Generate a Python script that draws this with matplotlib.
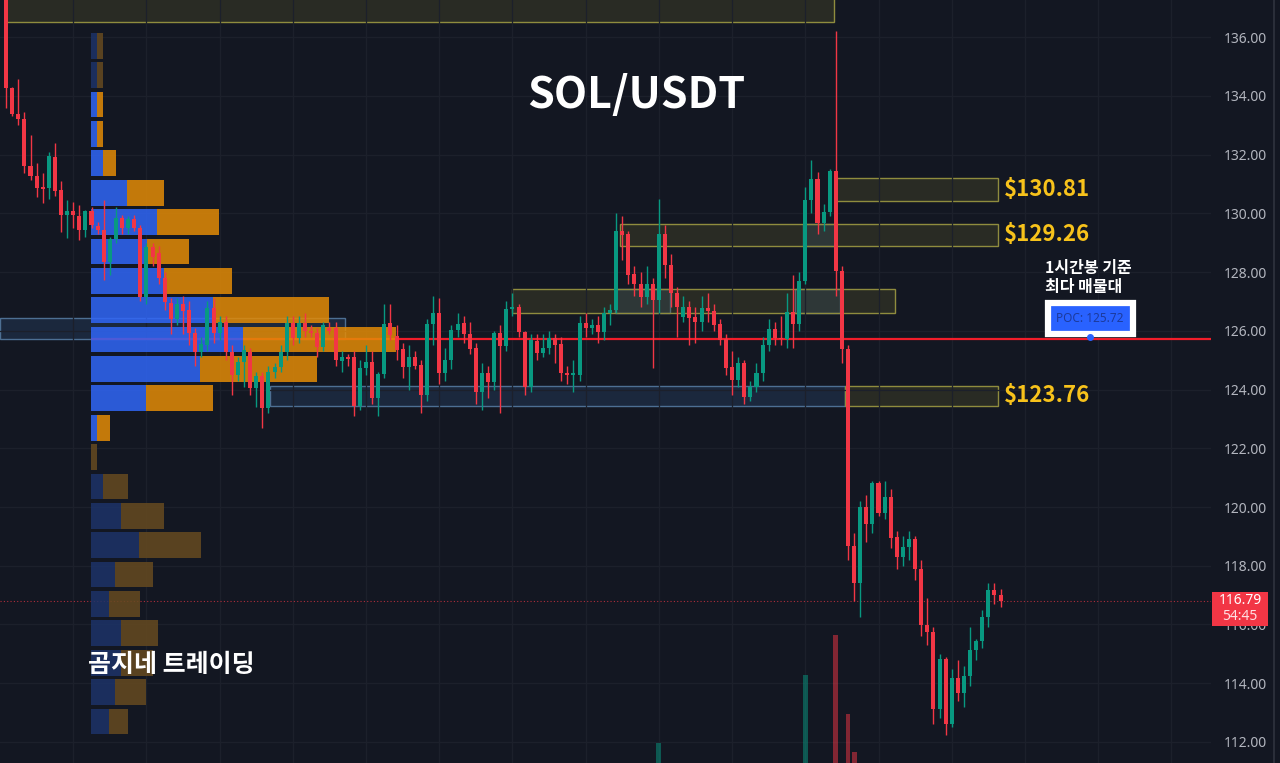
import numpy as np
import matplotlib
matplotlib.use("Agg")
import matplotlib.pyplot as plt
from matplotlib.patches import Rectangle
from matplotlib.lines import Line2D

# ---- candle data (1h SOL/USDT) ----
opens = [137.3, 134.26, 133.38, 133.2, 131.6, 131.27, 130.88, 130.86, 131.9, 130.8,
         129.94, 130.08, 129.9, 129.43, 130.08, 129.57, 129.43, 128.34, 129.12, 129.84,
         129.5, 129.8, 129.5, 127.15, 128.85, 128.64, 127.8, 126.94, 126.4, 126.9,
         126.7, 125.92, 125.28, 125.5, 126.77, 125.92, 126.3, 125.28, 124.5, 124.94,
         125.28, 124.05, 124.46, 123.37, 124.6, 124.75, 125.28, 126.27, 125.75, 126.27,
         126.0, 125.92, 125.45, 126.1, 126.1, 124.97, 125.1, 125.1, 123.44, 124.73,
         124.94, 123.7, 124.53, 126.27, 125.82, 125.38, 124.77, 125.1, 124.83, 123.81,
         126.23, 126.6, 124.56, 125.0, 126.03, 126.27, 125.9, 125.41, 123.91, 124.56,
         124.26, 125.92, 125.48, 126.74, 126.8, 125.96, 124.08, 125.65, 125.24, 125.41,
         125.75, 125.55, 124.56, 124.5, 124.5, 126.27, 126.1, 126.2, 125.96, 126.6,
         126.7, 129.4, 129.3, 127.93, 127.6, 127.15, 127.6, 127.05, 129.3, 128.24,
         127.3, 126.47, 126.8, 126.47, 126.3, 126.77, 126.67, 126.23, 125.72, 124.77,
         124.32, 124.9, 123.74, 124.09, 124.56, 125.5, 126.06, 125.75, 125.72, 126.64,
         126.23, 127.7, 130.45, 131.17, 129.67, 130.04, 131.44, 128.03, 125.38, 118.67,
         117.41, 120.0, 119.42, 120.82, 119.8, 120.34, 118.98, 118.3, 118.64, 118.9,
         117.9, 115.98, 115.74, 113.12, 114.83, 112.6, 114.18, 113.67, 114.25, 115.14,
         115.44, 116.26, 117.17, 117.0]
highs = [137.4, 134.3, 134.57, 133.45, 132.66, 131.7, 131.37, 132.1, 132.4, 131.1,
         130.45, 130.4, 130.28, 130.1, 130.2, 129.7, 130.45, 129.2, 130.2, 129.95,
         129.9, 129.95, 129.6, 129.0, 129.0, 128.9, 128.0, 127.1, 127.1, 127.2,
         127.0, 126.1, 125.8, 127.0, 127.1, 126.5, 126.5, 125.5, 125.1, 125.5,
         125.4, 124.6, 124.6, 124.8, 124.9, 125.5, 126.5, 126.5, 126.5, 126.6,
         126.2, 126.1, 126.3, 126.3, 126.3, 125.3, 125.2, 125.3, 125.0, 125.5,
         125.3, 124.6, 126.9, 126.9, 126.2, 125.6, 125.5, 125.3, 125.0, 126.4,
         127.2, 127.1, 125.4, 126.2, 126.6, 126.5, 126.3, 125.6, 124.9, 124.8,
         126.0, 126.2, 127.0, 127.3, 126.9, 126.0, 125.9, 125.9, 125.9, 126.0,
         125.9, 125.8, 124.8, 125.0, 126.5, 126.6, 126.4, 126.5, 126.8, 126.9,
         130.0, 129.9, 129.4, 128.2, 128.0, 128.2, 127.8, 130.5, 129.6, 128.6,
         127.5, 127.2, 127.0, 126.8, 127.2, 127.3, 126.9, 126.4, 125.9, 125.3,
         125.1, 125.0, 124.3, 124.9, 125.8, 126.4, 126.3, 126.5, 127.3, 127.9,
         128.0, 130.9, 131.8, 131.4, 130.3, 131.5, 136.2, 128.2, 125.5, 119.1,
         120.2, 120.4, 120.9, 120.9, 120.9, 120.6, 119.2, 119.0, 119.2, 119.0,
         118.2, 116.9, 115.9, 115.0, 114.9, 114.5, 114.8, 114.6, 115.9, 115.5,
         116.5, 117.4, 117.4, 117.2]
lows = [133.6, 133.3, 133.0, 131.37, 131.13, 130.55, 130.35, 130.5, 130.6, 129.36,
        129.16, 129.5, 129.09, 129.2, 129.5, 129.3, 127.73, 127.9, 129.0, 129.3,
        129.3, 129.4, 127.0, 126.9, 128.2, 127.6, 126.7, 125.9, 126.2, 125.9,
        125.5, 124.8, 125.1, 125.3, 125.6, 125.7, 125.0, 123.8, 124.3, 124.1,
        123.8, 123.4, 122.7, 123.2, 124.4, 124.6, 125.0, 125.5, 125.6, 125.8,
        125.8, 125.1, 125.3, 125.9, 124.8, 124.6, 124.8, 123.1, 123.3, 124.5,
        123.5, 123.1, 124.4, 125.7, 125.0, 124.4, 124.0, 124.7, 123.2, 123.6,
        125.5, 124.2, 124.3, 124.7, 125.8, 125.6, 125.2, 123.5, 123.3, 123.7,
        124.0, 123.2, 125.3, 126.5, 125.8, 123.8, 123.9, 125.0, 125.1, 125.2,
        124.9, 124.3, 124.2, 123.9, 124.3, 125.8, 125.9, 125.6, 125.7, 126.2,
        126.6, 128.4, 127.6, 127.2, 126.8, 126.9, 124.73, 126.6, 127.8, 126.8,
        125.8, 126.3, 125.5, 125.6, 126.0, 126.3, 126.0, 125.5, 124.5, 123.8,
        124.1, 123.5, 123.6, 123.9, 124.3, 125.3, 125.5, 125.5, 125.4, 125.4,
        126.0, 127.6, 130.0, 129.3, 129.4, 129.9, 127.2, 124.9, 118.2, 116.8,
        116.26, 118.8, 119.1, 119.7, 119.6, 118.6, 117.9, 118.0, 118.2, 117.5,
        115.6, 115.3, 112.6, 112.8, 112.24, 112.5, 113.4, 113.2, 113.9, 114.8,
        115.2, 115.9, 116.7, 116.6]
closes = [134.26, 133.38, 133.2, 131.6, 131.27, 130.86, 130.84, 131.95, 130.76, 129.94,
          130.08, 129.94, 129.43, 130.08, 129.6, 129.43, 128.34, 129.12, 129.84, 129.5,
          129.8, 129.5, 127.15, 128.85, 128.5, 127.8, 126.98, 126.4, 126.9, 126.67,
          125.92, 125.28, 125.55, 126.77, 125.92, 126.3, 125.28, 124.5, 124.94, 125.35,
          124.05, 124.46, 123.37, 124.6, 124.75, 125.28, 126.27, 125.75, 126.27, 126.0,
          125.92, 125.45, 126.2, 126.0, 125.0, 125.1, 125.05, 123.44, 124.73, 124.94,
          123.7, 124.53, 126.23, 125.86, 125.34, 124.77, 125.1, 124.8, 123.81, 126.23,
          126.6, 124.56, 125.0, 126.03, 126.23, 125.9, 125.38, 123.91, 124.56, 124.26,
          125.92, 125.48, 126.74, 126.8, 125.96, 124.08, 125.7, 125.24, 125.41, 125.75,
          125.5, 124.56, 124.5, 124.55, 126.27, 126.1, 126.2, 125.96, 126.6, 126.7,
          129.4, 129.26, 127.9, 127.6, 127.15, 127.6, 127.05, 129.3, 128.24, 127.28,
          126.8, 126.8, 126.43, 126.3, 126.77, 126.67, 126.2, 125.7, 124.73, 124.32,
          124.9, 123.74, 124.09, 124.56, 125.5, 126.06, 125.75, 125.72, 126.64, 126.23,
          127.7, 130.45, 131.17, 129.67, 130.04, 131.44, 128.03, 125.38, 118.67, 117.41,
          120.0, 119.42, 120.82, 119.8, 120.34, 118.94, 118.3, 118.64, 118.9, 117.9,
          115.98, 115.74, 113.12, 114.83, 112.6, 114.18, 113.67, 114.25, 115.14, 115.44,
          116.26, 117.17, 117.0, 116.79]

# visible volume bars (bottom of the pane)
vol_idx = [107, 131, 136, 138, 139]
vol_val = [20, 88, 128, 49, 11]

# volume profile (buy / sell) per 1$ bin
bin_mid = [135.7, 134.7, 133.7, 132.7, 131.7, 130.7, 129.7, 128.7, 127.7, 126.7, 125.7, 124.7,
           123.7, 122.7, 121.7, 120.7, 119.7, 118.7, 117.7, 116.7, 115.7, 114.7, 113.7, 112.7]
buy_vol = [6, 6, 6, 6, 12, 36, 66, 56, 73, 122, 152, 109, 55, 6, 0, 12, 30, 48, 24, 18, 30, 30, 24, 18]
sell_vol = [6, 6, 6, 6, 13, 37, 62, 42, 68, 116, 153, 117, 67, 13, 6, 25, 43, 62, 38, 31, 37, 32, 31, 19]
va_low, va_high = 122.2, 134.2
poc = 125.72
last_price = 116.79
countdown = "54:45"

# supply / demand zones: (start idx, end idx, low, high)
yellow_zones = [(-0.2, 135.7, 136.51, 137.5),
                (135.9, 162.6, 130.42, 131.2),
                (100.7, 162.6, 128.89, 129.63),
                (82.9, 145.7, 126.6, 127.42),
                (137.5, 162.6, 123.44, 124.12)]
blue_zones = [(-1.0, 55.6, 125.72, 126.43),
              (43.3, 137.5, 123.44, 124.12),
              (130.7, 135.9, 128.89, 129.63),
              (99.8, 108.9, 126.6, 127.42),
              (129.3, 136.7, 126.6, 127.42)]
zone_labels = [(1, "$130.81"), (2, "$129.26"), (4, "$123.76")]

bg = "#131722"
up_c = "#089981"
dn_c = "#f23645"
kr = ["Noto Sans CJK KR", "DejaVu Sans"]

W, H = 1280, 763
fig = plt.figure(figsize=(W / 100, H / 100), dpi=100, facecolor=bg)
ax = fig.add_axes([0, 0, 1211 / W, 1])
ax.set_facecolor(bg)
ax.set_xlim(-1.0, 197.5)
ax.set_ylim(111.285, 137.26)
px = 6.1  # pixels per candle

# grid
ax.set_xticks(np.arange(11, 197, 12))
ax.set_yticks(np.arange(112, 137, 2))
ax.set_yticklabels([f"{v:.2f}" for v in np.arange(112, 137, 2)])
ax.grid(True, color="#1c202b", lw=0.9, zorder=0)
ax.yaxis.tick_right()
ax.tick_params(axis="x", length=0, labelbottom=False)
ax.tick_params(axis="y", length=0, pad=9, labelsize=10, labelcolor="#b2b5be")
for lab in ax.get_yticklabels():
    lab.set_fontfamily("Noto Sans")
for s in ax.spines.values():
    s.set_visible(False)

# zones
for (x0, x1, lo, hi) in blue_zones:
    ax.add_patch(Rectangle((x0, lo), x1 - x0, hi - lo, facecolor="#2a4a70", alpha=0.35,
                           edgecolor="none", zorder=1))
    ax.add_patch(Rectangle((x0, lo), x1 - x0, hi - lo, facecolor="none",
                           edgecolor="#4d6f93", lw=1, zorder=1.1))
for (x0, x1, lo, hi) in yellow_zones:
    ax.add_patch(Rectangle((x0, lo), x1 - x0, hi - lo, facecolor="#5c5a2a", alpha=0.3,
                           edgecolor="none", zorder=1.2))
    ax.add_patch(Rectangle((x0, lo), x1 - x0, hi - lo, facecolor="none",
                           edgecolor="#8f8c3e", lw=1, zorder=1.3))

# POC line and last price line
prof_x0 = (91 - 6) / px
ax.hlines(poc, prof_x0, 197.5, color="#f21d2a", lw=1.6, zorder=2)
ax.axhline(last_price, color=dn_c, lw=0.8, ls=(0, (1, 2)), alpha=0.7, zorder=2)

# volume profile
buy_vol = np.array(buy_vol)
sell_vol = np.array(sell_vol)
bin_mid = np.array(bin_mid)
inside = (bin_mid > va_low) & (bin_mid < va_high)
blue_cols = np.where(inside, "#3066f7", "#1d3368")
orng_cols = np.where(inside, "#e38b06", "#664a20")
ax.barh(bin_mid, buy_vol / px, left=prof_x0, height=0.88, color=blue_cols, alpha=0.85,
        lw=0, zorder=3)
ax.barh(bin_mid, sell_vol / px, left=prof_x0 + buy_vol / px, height=0.88, color=orng_cols,
        alpha=0.85, lw=0, zorder=3)

# volume bars
vcols = [up_c if closes[i] >= opens[i] else dn_c for i in vol_idx]
ax.bar(vol_idx, np.array(vol_val) / 29.375, bottom=111.285, width=0.8, color=vcols,
       alpha=0.5, lw=0, zorder=2)

# candles
o = np.array(opens)
c = np.array(closes)
x = np.arange(len(o))
cols = np.where(c >= o, up_c, dn_c)
ax.vlines(x, lows, highs, colors=cols, lw=1, zorder=4)
body = np.maximum(np.abs(c - o), 0.05)
ax.bar(x, body, bottom=np.minimum(o, c), width=0.66, color=cols, lw=0, zorder=5)

# zone labels
for zi, txt in zone_labels:
    x0, x1, lo, hi = yellow_zones[zi]
    ax.annotate(txt, xy=(x1, (lo + hi) / 2), xytext=(4, 0), textcoords="offset points",
                ha="left", va="center", color="#f7c21b", fontsize=16,
                fontweight="bold", family=kr, zorder=6)

# POC badge
ax.text(177.7, 126.42, f"POC: {poc:.2f}", ha="center", va="center", fontsize=8.5,
        color="#1c3a9c", family="Noto Sans", zorder=7,
        bbox=dict(boxstyle="square,pad=0.75", facecolor="#2962ff", edgecolor="white", lw=4.5))
ax.plot([177.7], [125.78], "o", color="#2962ff", ms=4, zorder=7)

# texts
fig.text(636 / W, 1 - 95 / H, "SOL/USDT", ha="center", va="center", color="white",
         fontsize=31, fontweight="bold", family=kr)
fig.text(88 / W, 1 - 665 / H, "곰지네 트레이딩", ha="left", va="center", color="white",
         fontsize=18, fontweight="bold", family=kr)
fig.text(1045 / W, 1 - 260 / H, "1시간봉 기준\n최다 매물대", ha="left", va="top",
         color="white", fontsize=11.5, fontweight="bold", family=kr, linespacing=1.2)

# last price tag on the price scale
fig.add_artist(Rectangle((1212 / W, 1 - 626 / H), 56 / W, 34 / H, transform=fig.transFigure,
                         facecolor=dn_c, edgecolor="none", zorder=5))
fig.text(1240 / W, 1 - 601 / H, f"{last_price:.2f}", ha="center", va="center", color="white",
         fontsize=10, family="Noto Sans", zorder=6)
fig.text(1240 / W, 1 - 617 / H, countdown, ha="center", va="center", color="#ffe0e3",
         fontsize=10, family="Noto Sans", zorder=6)
fig.add_artist(Line2D([1274 / W, 1274 / W], [0, 1], transform=fig.transFigure,
                      color="#2a2e39", lw=1.5))

fig.savefig("out.png", dpi=100, facecolor=bg)
